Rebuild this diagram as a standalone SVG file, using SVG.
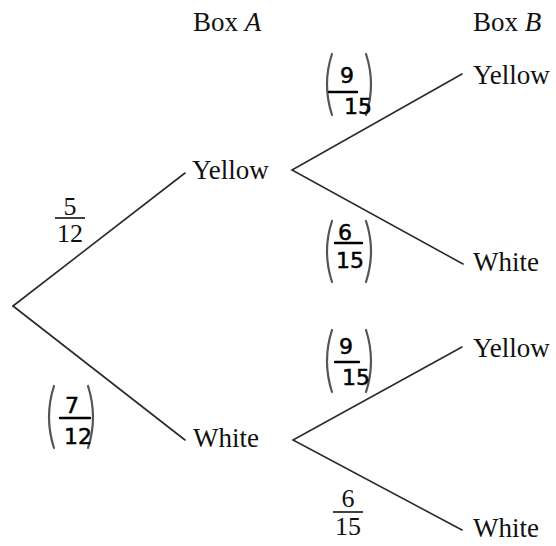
<svg xmlns="http://www.w3.org/2000/svg" width="556" height="546" viewBox="0 0 556 546">
<style>
.lbl{font-family:"Liberation Serif","Times New Roman",serif;font-size:27px;fill:#111}
.num{font-family:"Liberation Serif","Times New Roman",serif;font-size:26px;fill:#111;text-anchor:middle}
.hw{font-family:"DejaVu Sans","Noto Sans",sans-serif;font-size:22px;fill:#000;text-anchor:middle;stroke:#000;stroke-width:0.5}
.edge{stroke:#2a2a2a;stroke-width:1.6;fill:none;stroke-linecap:round}
.bar{stroke:#111;stroke-width:1.6}
.hbar{stroke:#000;stroke-width:2.4;stroke-linecap:round}
.br{stroke:#555;stroke-width:2.2;fill:none;stroke-linecap:round}
</style>
<rect width="556" height="546" fill="#fff"/>
<g id="connectors">
<line class="edge" x1="13" y1="306" x2="185" y2="173"/>
<line class="edge" x1="13" y1="306" x2="185" y2="440"/>
<polyline class="edge" points="462,74 292,170 463,264"/>
<polyline class="edge" points="462,347 293,440 462,530"/>
</g>
<g id="header-boxA"><text class="lbl" x="193" y="31">Box <tspan font-style="italic">A</tspan></text></g>
<g id="header-boxB"><text class="lbl" x="473" y="31">Box <tspan font-style="italic">B</tspan></text></g>
<g id="node-A-yellow"><text class="lbl" x="192" y="179">Yellow</text></g>
<g id="node-A-white"><text class="lbl" x="193" y="447">White</text></g>
<g id="node-B-yellow-1"><text class="lbl" x="473" y="84">Yellow</text></g>
<g id="node-B-white-1"><text class="lbl" x="473" y="271">White</text></g>
<g id="node-B-yellow-2"><text class="lbl" x="473" y="357">Yellow</text></g>
<g id="node-B-white-2"><text class="lbl" x="473" y="537">White</text></g>
<g id="label-5-12">
<text class="num" x="70" y="215">5</text>
<line class="bar" x1="55" y1="218" x2="85" y2="218"/>
<text class="num" x="70" y="242">12</text>
</g>
<g id="label-6-15-bottom">
<text class="num" x="348" y="507">6</text>
<line class="bar" x1="333" y1="512" x2="363" y2="512"/>
<text class="num" x="348" y="535">15</text>
</g>
<g id="label-9-15-top">
<path class="br" d="M332,54 Q322,84 332,115"/>
<path class="br" d="M366,54 Q376,84 366,115"/>
<text class="hw" x="347" y="83">9</text>
<line class="hbar" x1="329" y1="92" x2="357" y2="92"/>
<text class="hw" x="358" y="114">15</text>
</g>
<g id="label-6-15-top">
<path class="br" d="M332,221 Q322,251 332,282"/>
<path class="br" d="M366,221 Q376,251 366,282"/>
<text class="hw" x="345" y="240">6</text>
<line class="hbar" x1="335" y1="243" x2="362" y2="243"/>
<text class="hw" x="350" y="268">15</text>
</g>
<g id="label-9-15-mid">
<path class="br" d="M332,330 Q322,361 332,392"/>
<path class="br" d="M366,330 Q376,361 366,392"/>
<text class="hw" x="346" y="354">9</text>
<line class="hbar" x1="335" y1="362" x2="359" y2="362"/>
<text class="hw" x="356" y="385">15</text>
</g>
<g id="label-7-12">
<path class="br" d="M54,386 Q44,417 54,448"/>
<path class="br" d="M88,386 Q98,417 88,448"/>
<text class="hw" x="72" y="413">7</text>
<line class="hbar" x1="60" y1="418" x2="90" y2="418"/>
<text class="hw" x="78" y="444">12</text>
</g>
</svg>
